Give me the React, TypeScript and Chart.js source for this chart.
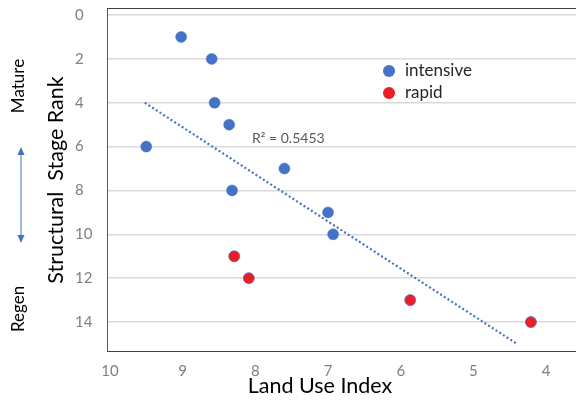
import React, { useEffect, useRef } from "react";
import { Chart, registerables } from "chart.js";
Chart.register(...registerables);

const intensiveX = [9.02, 8.6, 8.56, 8.36, 9.5, 8.32, 7.6, 7.0, 6.93];
const intensiveY = [1, 2, 4, 5, 6, 8, 7, 9, 10];
const rapidX = [8.29, 8.09, 5.87, 4.21];
const rapidY = [11, 12, 13, 14];
const trendX = [9.52, 4.4];
const trendY = [4.0, 15.0];
const xTicks = [10, 9, 8, 7, 6, 5, 4];
const yTicks = [0, 2, 4, 6, 8, 10, 12, 14];
const seriesLabels = ["intensive", "rapid"];
const r2Label = "R² = 0.5453";
const yTitle = "Structural  Stage Rank";
const xTitle = "Land Use Index";

const BLUE = "#4472C4";
const RED = "#EE1C25";
const FONT = "Lato, 'Open Sans', sans-serif";

export default function App() {
  const ref = useRef<HTMLCanvasElement>(null);
  useEffect(() => {
    const ctx = ref.current!.getContext("2d")!;
    const annot = {
      id: "annot",
      afterDraw(chart: any) {
        const c = chart.ctx;
        const area = chart.chartArea;
        const ys = chart.scales.y;
        c.save();
        // top border
        c.strokeStyle = "#404040";
        c.lineWidth = 1;
        c.beginPath();
        c.moveTo(area.left, area.top + 0.5);
        c.lineTo(area.right, area.top + 0.5);
        c.stroke();
        // y tick labels (left aligned)
        c.fillStyle = "#7f7f7f";
        c.font = `15px ${FONT}`;
        c.textAlign = "left";
        c.textBaseline = "middle";
        yTicks.forEach((v) => {
          c.fillText(String(v), 75, ys.getPixelForValue(v));
        });
        // legend
        const colors = [BLUE, RED];
        seriesLabels.forEach((lab, i) => {
          const y = 71 + i * 22;
          c.beginPath();
          c.arc(389, y, 6, 0, Math.PI * 2);
          c.fillStyle = colors[i];
          c.fill();
          c.fillStyle = "#262626";
          c.font = `17px ${FONT}`;
          c.textAlign = "left";
          c.textBaseline = "middle";
          c.fillText(lab, 405, y);
        });
        // R2
        c.fillStyle = "#595959";
        c.font = `14px ${FONT}`;
        c.textAlign = "left";
        c.textBaseline = "middle";
        c.fillText(r2Label, 252, 138);
        // x title
        c.fillStyle = "#000";
        c.font = `21.5px ${FONT}`;
        c.textAlign = "center";
        c.fillText(xTitle, 320, 386);
        // rotated texts
        const rot = (txt: string, x: number, y: number, size: number) => {
          c.save();
          c.translate(x, y);
          c.rotate(-Math.PI / 2);
          c.font = `${size}px ${FONT}`;
          c.fillStyle = "#000";
          c.textAlign = "center";
          c.textBaseline = "middle";
          c.fillText(txt, 0, 0);
          c.restore();
        };
        rot(yTitle, 56, 180, 21.5);
        rot("Mature", 19, 86, 17);
        rot("Regen", 19, 309, 17);
        // arrow
        c.strokeStyle = BLUE;
        c.fillStyle = BLUE;
        c.lineWidth = 1;
        c.beginPath();
        c.moveTo(21, 152);
        c.lineTo(21, 238);
        c.stroke();
        c.beginPath();
        c.moveTo(21, 147);
        c.lineTo(17.5, 155);
        c.lineTo(24.5, 155);
        c.closePath();
        c.fill();
        c.beginPath();
        c.moveTo(21, 243);
        c.lineTo(17.5, 235);
        c.lineTo(24.5, 235);
        c.closePath();
        c.fill();
        c.restore();
      },
    };
    const zeroPad = (s: any) => {
      s.paddingTop = 0;
      s.paddingBottom = 0;
      s.paddingLeft = 0;
      s.paddingRight = 0;
    };
    const chart = new Chart(ctx, {
      type: "scatter",
      data: {
        datasets: [
          {
            label: "trend",
            data: trendX.map((x, i) => ({ x, y: trendY[i] })),
            showLine: true,
            borderColor: BLUE,
            borderWidth: 2.2,
            borderDash: [2, 2.4],
            pointRadius: 0,
            fill: false,
          } as any,
          {
            label: seriesLabels[0],
            data: intensiveX.map((x, i) => ({ x, y: intensiveY[i] })),
            backgroundColor: BLUE,
            borderColor: BLUE,
            borderWidth: 0.5,
            pointRadius: 5.5,
          },
          {
            label: seriesLabels[1],
            data: rapidX.map((x, i) => ({ x, y: rapidY[i] })),
            backgroundColor: RED,
            borderColor: BLUE,
            borderWidth: 0.75,
            pointRadius: 5.5,
          },
        ],
      },
      options: {
        responsive: false,
        animation: false,
        layout: { autoPadding: false, padding: { top: 8, left: 0, right: 0, bottom: 0 } },
        plugins: { legend: { display: false }, tooltip: { enabled: false } },
        scales: {
          x: {
            type: "linear",
            reverse: true,
            min: 3.59,
            max: 10.04,
            afterBuildTicks: (s: any) => {
              s.ticks = xTicks.map((v) => ({ value: v }));
            },
            afterFit: (s: any) => {
              s.height = 49;
              zeroPad(s);
            },
            grid: { display: false, drawTicks: false },
            border: { color: "#404040", width: 1 },
            ticks: {
              padding: 11,
              color: "#7f7f7f",
              font: { family: FONT, size: 15 },
            },
          },
          y: {
            type: "linear",
            reverse: true,
            min: -0.32,
            max: 15.32,
            afterBuildTicks: (s: any) => {
              s.ticks = yTicks.map((v) => ({ value: v }));
            },
            afterFit: (s: any) => {
              s.width = 107;
              zeroPad(s);
            },
            grid: { color: "#d9d9d9", drawTicks: false, lineWidth: 1.5 },
            border: { color: "#595959", width: 1 },
            ticks: { display: false },
          },
        },
      },
      plugins: [annot],
    } as any);
    return () => chart.destroy();
  }, []);
  return (
    <div style={{ position: "fixed", left: 0, top: 0, width: 576, height: 400, background: "#fff" }}>
      <canvas ref={ref} width={576} height={400} />
    </div>
  );
}
